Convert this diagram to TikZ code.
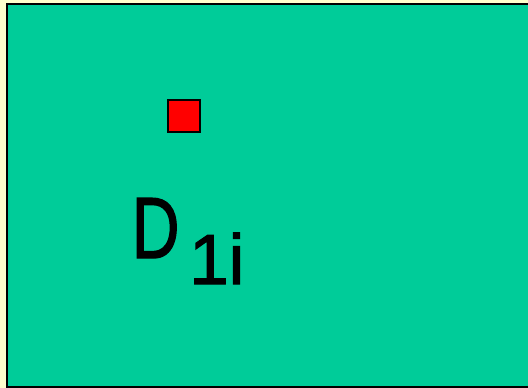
\documentclass[tikz,border=0pt]{standalone}
\usepackage{fontspec}
\setmainfont{Liberation Sans}
\newfontfamily\labelfont[FakeBold=1.5]{Liberation Sans}
\usepackage{xcolor}
\usepackage{tikz}
\definecolor{paleyellow}{RGB}{255,255,204}
\definecolor{panelgreen}{RGB}{0,204,153}

\begin{document}
\begin{tikzpicture}[x=1pt, y=-1pt,
    panel/.style={draw=black, line width=2pt, fill=panelgreen},
    marker/.style={rectangle, draw=black, line width=2pt, fill=red, minimum size=32pt, inner sep=0pt},
    bigletter/.style={anchor=base west, inner sep=0pt, font=\labelfont\fontsize{87}{87}\selectfont},
    subletter/.style={anchor=base west, inner sep=0pt, font=\labelfont\fontsize{71}{71}\selectfont}
]

% background and panel
\fill[paleyellow] (0,0) rectangle (528,388);
\useasboundingbox (0,0) rectangle (528,388);
\draw[panel] (7,4) rectangle (532,387);

\node[marker] (dot) at (183.5,116) {};

\node[bigletter] (dname) at (131.6,258) {\scalebox{0.76}[1]{D}};
\node[subletter] (dindex) at (189,284) {1i};

\end{tikzpicture}
\end{document}
